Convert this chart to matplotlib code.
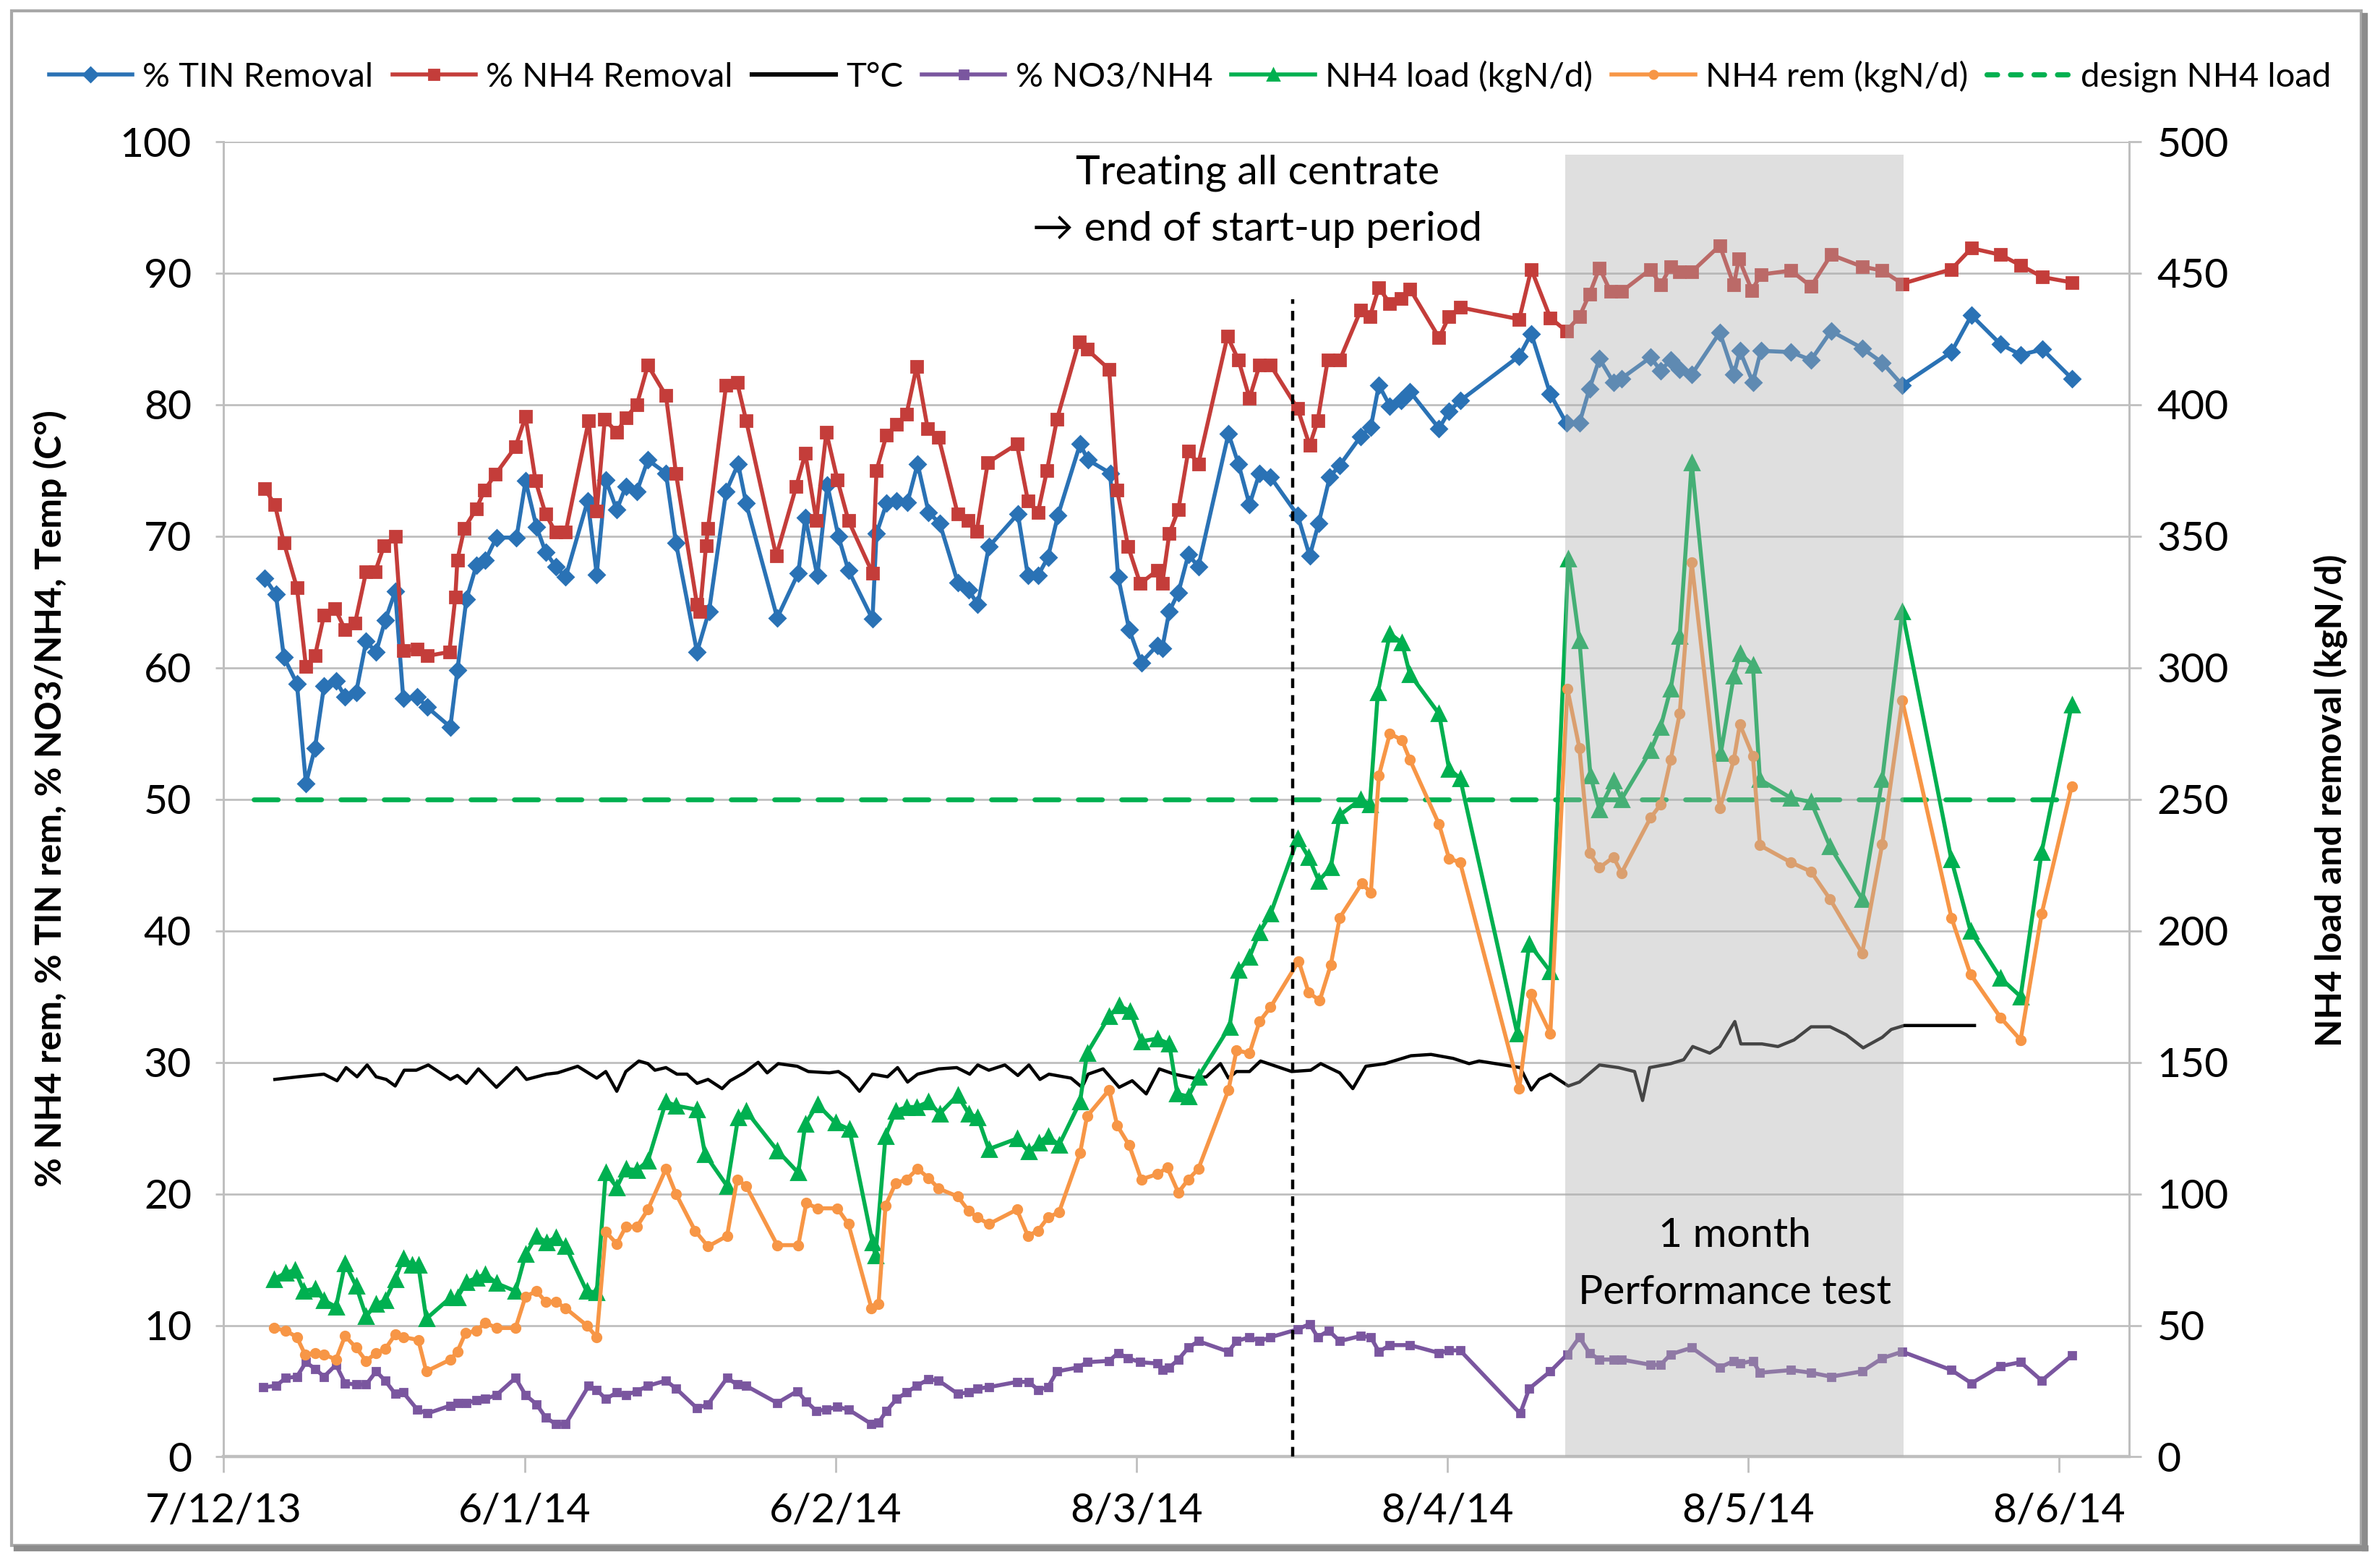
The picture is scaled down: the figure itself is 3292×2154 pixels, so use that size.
import matplotlib
matplotlib.use("Agg")
import matplotlib.pyplot as plt
from matplotlib.patches import Rectangle
from matplotlib.lines import Line2D

plt.rcParams['font.family'] = ['Lato', 'DejaVu Sans']

# ---------------- data (x = days since 7/12/13) ----------------
tick_days = [0, 30, 61, 91, 122, 152, 183]
tick_labels = ["7/12/13", "6/1/14", "6/2/14", "8/3/14", "8/4/14", "8/5/14", "8/6/14"]

nh4_days = [4.1, 5.1, 6.0, 7.3, 8.2, 9.1, 10.0, 11.1, 12.1, 13.1, 14.2, 15.1, 16.0, 17.1, 17.9,
            19.3, 20.3, 22.5, 23.1, 23.3, 24.0, 25.2, 26.0, 27.1, 29.1, 30.1, 31.1, 32.1, 33.1,
            34.1, 36.4, 37.2, 38.0, 39.2, 40.1, 41.2, 42.3, 44.1, 45.1, 47.2, 47.5, 48.1, 48.3,
            50.1, 51.2, 52.1, 55.1, 57.1, 58.0, 59.1, 60.1, 61.2, 62.3, 64.7, 65.1, 66.1, 67.1,
            68.1, 69.1, 70.2, 71.3, 73.2, 74.2, 75.1, 76.2, 79.1, 80.2, 81.2, 82.1, 83.1, 85.3,
            86.1, 88.3, 89.1, 90.2, 91.4, 93.1, 93.6, 94.3, 95.2, 96.2, 97.2, 100.1, 101.2,
            102.3, 103.3, 104.4, 107.1, 108.3, 109.1, 110.1, 111.3, 113.4, 114.3, 115.2, 116.3,
            117.4, 118.3, 121.2, 122.2, 123.3, 129.2, 130.4, 132.3, 133.9, 135.2, 136.2, 137.2,
            138.3, 139.4, 142.3, 143.3, 144.3, 145.2, 146.4, 149.2, 150.6, 151.1, 152.4, 153.3,
            156.3, 158.3, 160.3, 163.4, 165.4, 167.4, 172.3, 174.3, 177.2, 179.2, 181.4, 184.3]
nh4_removal = [73.6, 72.4, 69.5, 66.1, 60.1, 60.9, 64.0, 64.5, 62.9, 63.4, 67.3, 67.3, 69.3, 70.0,
               61.3, 61.4, 60.9, 61.2, 65.4, 68.2, 70.6, 72.1, 73.5, 74.7, 76.8, 79.1, 74.2, 71.7,
               70.3, 70.3, 78.8, 71.9, 78.9, 77.9, 79.0, 80.0, 83.0, 80.7, 74.8, 64.8, 64.3, 69.3,
               70.6, 81.5, 81.7, 78.8, 68.5, 73.8, 76.3, 71.2, 77.9, 74.3, 71.2, 67.2, 75.0, 77.7,
               78.5, 79.3, 82.9, 78.2, 77.5, 71.7, 71.2, 70.4, 75.6, 77.0, 72.7, 71.8, 75.0, 78.9,
               84.8, 84.2, 82.7, 73.5, 69.2, 66.4, 67.4, 66.4, 70.2, 72.0, 76.5, 75.5, 85.2, 83.4,
               80.5, 83.0, 83.0, 79.7, 76.9, 78.8, 83.4, 83.4, 87.2, 86.7, 88.9, 87.7, 88.1, 88.8,
               85.1, 86.7, 87.4, 86.5, 90.3, 86.6, 85.6, 86.7, 88.4, 90.4, 88.6, 88.6, 90.3, 89.1,
               90.5, 90.1, 90.1, 92.1, 89.1, 91.1, 88.7, 89.9, 90.2, 89.0, 91.4, 90.5, 90.2, 89.2,
               90.3, 91.9, 91.4, 90.6, 89.7, 89.3]

tin_days = [4.1, 5.2, 6.0, 7.3, 8.2, 9.1, 10.0, 11.2, 12.1, 13.2, 14.2, 15.2, 16.1, 17.1, 17.9,
            19.3, 20.3, 22.6, 23.3, 24.2, 25.2, 26.1, 27.2, 29.2, 30.1, 31.2, 32.1, 33.1, 34.1,
            36.3, 37.2, 38.1, 39.2, 40.1, 41.2, 42.3, 44.1, 45.1, 47.2, 48.4, 50.1, 51.3, 52.1,
            55.2, 57.3, 58.0, 59.2, 60.2, 61.3, 62.3, 64.7, 65.1, 66.1, 67.1, 68.2, 69.2, 70.3,
            71.4, 73.2, 74.3, 75.2, 76.3, 79.2, 80.2, 81.2, 82.2, 83.2, 85.4, 86.2, 88.4, 89.2,
            90.3, 91.5, 93.1, 93.6, 94.3, 95.2, 96.2, 97.2, 100.2, 101.2, 102.3, 103.3, 104.4,
            107.1, 108.3, 109.2, 110.3, 111.3, 113.4, 114.4, 115.2, 116.3, 117.4, 118.3, 121.2,
            122.2, 123.3, 129.2, 130.4, 132.3, 133.9, 135.2, 136.2, 137.2, 138.6, 139.4, 142.3,
            143.3, 144.3, 145.2, 146.4, 149.2, 150.6, 151.2, 152.5, 153.3, 156.3, 158.3, 160.3,
            163.4, 165.4, 167.4, 172.3, 174.3, 177.2, 179.2, 181.4, 184.3]
tin_removal = [66.8, 65.6, 60.8, 58.8, 51.2, 53.9, 58.6, 59.0, 57.8, 58.1, 62.0, 61.2, 63.6, 65.8,
               57.7, 57.8, 57.0, 55.5, 59.8, 65.2, 67.8, 68.2, 69.9, 69.9, 74.2, 70.7, 68.8, 67.7,
               66.9, 72.7, 67.1, 74.3, 72.0, 73.8, 73.4, 75.8, 74.8, 69.5, 61.2, 64.3, 73.4, 75.5,
               72.5, 63.8, 67.2, 71.4, 67.0, 73.9, 70.0, 67.4, 63.7, 70.2, 72.5, 72.7, 72.6, 75.5,
               71.8, 71.0, 66.5, 65.9, 64.8, 69.2, 71.7, 67.0, 67.0, 68.4, 71.6, 77.0, 75.8, 74.8,
               66.9, 62.9, 60.4, 61.7, 61.5, 64.3, 65.7, 68.6, 67.7, 77.8, 75.5, 72.4, 74.8, 74.5,
               71.6, 68.5, 71.0, 74.5, 75.4, 77.6, 78.3, 81.5, 79.9, 80.3, 81.0, 78.2, 79.5, 80.3,
               83.7, 85.4, 80.8, 78.6, 78.6, 81.2, 83.5, 81.7, 82.0, 83.6, 82.6, 83.4, 82.7, 82.3,
               85.5, 82.3, 84.1, 81.7, 84.1, 84.0, 83.4, 85.6, 84.3, 83.2, 81.5, 84.0, 86.8, 84.6,
               83.8, 84.2, 82.0]

temp_days = [5.1, 7.4, 10.0, 11.3, 12.2, 13.3, 14.3, 15.2, 16.2, 17.1, 18.0, 19.2, 20.4, 22.6,
             23.3, 24.2, 25.4, 27.2, 29.2, 30.2, 32.2, 33.3, 35.3, 37.2, 38.1, 39.2, 40.1, 41.4,
             42.3, 43.0, 44.1, 45.2, 46.2, 47.2, 48.3, 49.7, 50.5, 51.9, 53.3, 54.2, 55.3, 57.2,
             58.3, 60.4, 61.3, 62.3, 63.4, 64.7, 66.2, 67.2, 68.2, 69.2, 71.3, 73.1, 74.4, 75.2,
             76.3, 77.9, 79.2, 80.3, 81.4, 82.3, 84.5, 85.6, 86.2, 87.7, 89.3, 90.6, 92.0, 93.3,
             94.8, 96.7, 98.0, 99.4, 100.2, 101.0, 102.3, 103.4, 106.5, 108.4, 109.4, 111.3,
             112.6, 113.9, 115.8, 118.4, 120.4, 122.6, 124.2, 125.2, 129.3, 130.4, 131.2, 132.3,
             134.1, 135.2, 137.2, 139.1, 140.7, 141.5, 142.2, 144.3, 145.6, 146.5, 148.2, 149.2,
             150.7, 151.3, 153.4, 155.0, 156.6, 158.3, 160.2, 161.8, 163.5, 165.4, 166.3, 167.6,
             174.6]
temp_c = [28.7, 28.9, 29.1, 28.6, 29.6, 28.9, 29.8, 28.9, 28.7, 28.2, 29.4, 29.4, 29.8, 28.7,
          29.0, 28.4, 29.5, 28.1, 29.6, 28.7, 29.1, 29.2, 29.7, 28.8, 29.3, 27.8, 29.3, 30.1,
          29.9, 29.4, 29.6, 29.1, 29.1, 28.4, 28.7, 28.0, 28.6, 29.2, 30.0, 29.2, 29.9, 29.7,
          29.3, 29.2, 29.3, 28.8, 27.8, 29.1, 28.9, 29.6, 28.5, 29.1, 29.5, 29.6, 29.1, 29.8,
          29.4, 29.8, 29.0, 29.8, 28.7, 29.1, 28.8, 28.1, 29.1, 29.5, 28.1, 28.6, 27.6, 29.5,
          29.1, 28.8, 28.9, 29.9, 28.8, 29.3, 29.3, 30.1, 29.3, 29.4, 29.9, 29.2, 28.0, 29.7,
          29.9, 30.5, 30.6, 30.3, 29.9, 30.1, 29.6, 27.9, 28.7, 29.1, 28.2, 28.5, 29.8, 29.6,
          29.3, 27.1, 29.6, 29.9, 30.2, 31.2, 30.7, 31.2, 33.1, 31.4, 31.4, 31.2, 31.7, 32.7,
          32.7, 32.1, 31.1, 31.9, 32.5, 32.8, 32.8]

no3_days = [3.9, 5.2, 6.2, 7.3, 8.2, 9.1, 10.0, 11.2, 12.1, 13.2, 14.2, 15.2, 16.1, 17.1, 17.9,
            19.3, 20.3, 22.6, 23.3, 24.2, 25.2, 26.1, 27.2, 29.1, 30.1, 31.2, 32.1, 33.1, 34.1,
            36.4, 37.2, 38.1, 39.2, 40.1, 41.2, 42.3, 44.1, 45.1, 47.2, 48.3, 50.2, 51.2, 52.1,
            55.2, 57.2, 58.1, 59.1, 60.1, 61.2, 62.3, 64.6, 65.3, 66.1, 67.1, 68.1, 69.1, 70.3,
            71.3, 73.2, 74.3, 75.2, 76.3, 79.1, 80.3, 81.2, 82.2, 83.1, 85.2, 86.1, 88.3, 89.2,
            90.2, 91.4, 93.1, 93.6, 94.3, 95.2, 96.2, 97.2, 100.2, 101.0, 102.3, 103.3, 104.4,
            107.1, 108.3, 109.1, 110.2, 111.3, 113.4, 114.4, 115.2, 116.3, 118.3, 121.2, 122.2,
            123.3, 129.3, 130.2, 132.3, 134.0, 135.2, 136.2, 137.2, 138.6, 139.4, 142.3, 143.3,
            144.3, 146.4, 149.2, 150.6, 151.2, 152.5, 153.2, 156.3, 158.3, 160.3, 163.4, 165.4,
            167.4, 172.3, 174.3, 177.2, 179.2, 181.3, 184.3]
no3_nh4 = [5.3, 5.4, 6.0, 6.1, 7.2, 6.7, 6.1, 7.0, 5.6, 5.5, 5.5, 6.5, 5.8, 4.8, 4.9, 3.6, 3.3,
           3.9, 4.1, 4.1, 4.3, 4.4, 4.7, 6.0, 4.7, 4.0, 3.0, 2.5, 2.5, 5.4, 5.1, 4.4, 4.9, 4.7,
           5.0, 5.4, 5.8, 5.2, 3.7, 4.0, 6.0, 5.5, 5.4, 4.1, 5.0, 4.2, 3.5, 3.6, 3.8, 3.6, 2.5,
           2.6, 3.5, 4.4, 4.9, 5.4, 5.9, 5.8, 4.8, 4.9, 5.2, 5.3, 5.7, 5.7, 5.1, 5.3, 6.5, 6.8,
           7.2, 7.3, 7.9, 7.5, 7.2, 7.1, 6.6, 6.8, 7.4, 8.3, 8.8, 8.0, 8.8, 9.1, 8.8, 9.1, 9.7,
           10.1, 9.1, 9.6, 8.8, 9.2, 9.1, 8.0, 8.5, 8.5, 7.9, 8.1, 8.1, 3.3, 5.2, 6.5, 7.8, 9.1,
           7.9, 7.4, 7.4, 7.4, 7.0, 7.0, 7.8, 8.3, 6.8, 7.3, 7.1, 7.3, 6.4, 6.6, 6.4, 6.1, 6.5,
           7.5, 8.0, 6.6, 5.6, 6.9, 7.2, 5.8, 7.7]

load_days = [5.0, 6.2, 7.1, 8.0, 9.1, 10.0, 11.2, 12.1, 13.2, 14.2, 15.2, 16.1, 17.1, 17.9, 18.8,
             19.4, 20.2, 22.6, 23.3, 24.2, 25.2, 26.1, 27.2, 29.1, 30.1, 31.2, 32.2, 33.1, 34.1,
             36.2, 37.2, 38.1, 39.2, 40.1, 41.2, 42.3, 44.1, 45.1, 47.2, 48.0, 50.2, 51.3, 52.1,
             55.2, 57.3, 58.0, 59.2, 61.0, 62.4, 64.7, 65.0, 66.0, 67.0, 68.1, 69.1, 70.3, 71.4,
             73.2, 74.3, 75.2, 76.3, 79.1, 80.3, 81.3, 82.2, 83.3, 85.4, 86.1, 88.3, 89.3, 90.4,
             91.5, 93.1, 94.3, 95.1, 96.2, 97.2, 100.3, 101.2, 102.3, 103.3, 104.4, 107.1, 108.2,
             109.2, 110.4, 111.3, 113.4, 114.3, 115.1, 116.3, 117.5, 118.3, 121.2, 122.2, 123.3,
             129.0, 130.2, 132.3, 134.1, 135.2, 136.3, 137.2, 138.6, 139.4, 142.3, 143.3, 144.3,
             145.2, 146.4, 149.3, 150.6, 151.2, 152.5, 153.2, 156.3, 158.3, 160.2, 163.4, 165.4,
             167.4, 172.3, 174.2, 177.2, 179.2, 181.3, 184.3]
nh4_load = [67.5, 70, 71, 63, 64, 59.5, 57, 73.5, 65, 53.5, 58, 59.5, 67.5, 75.5, 73, 73, 52.5,
            60.5, 60.5, 66.5, 68, 69.5, 66, 63, 77, 84, 81.5, 83.5, 80, 63, 62.5, 108, 102.5,
            109.5, 109, 112.5, 135, 133.5, 132, 115, 103, 129, 131.5, 116.5, 108, 126.5, 134,
            127, 124.5, 81.5, 76.5, 122, 131.5, 133, 133, 135, 130.5, 137.5, 130.5, 129, 117,
            121, 116, 119.5, 122, 118.5, 135, 153.5, 167.5, 171.5, 169.5, 158, 159, 157, 138,
            137, 144.5, 163.5, 185, 190, 199.5, 206.5, 235, 228, 219, 224, 244, 250, 248, 290.5,
            313, 309.5, 297.5, 282.5, 261.5, 258, 161, 195, 184.5, 341.5, 310.5, 259, 246, 257,
            250, 268.5, 277.5, 292, 312, 378, 267.5, 297, 305.5, 301, 257.5, 250.5, 249, 232,
            212, 257.5, 321.5, 227, 200, 182, 175, 230, 286]

rem_days = [5.0, 6.2, 7.3, 8.1, 9.1, 10.0, 11.2, 12.1, 13.2, 14.2, 15.2, 16.1, 17.1, 17.9, 19.4,
            20.2, 22.6, 23.3, 24.1, 25.2, 26.1, 27.2, 29.1, 30.1, 31.2, 32.1, 33.1, 34.1, 36.2,
            37.2, 38.1, 39.2, 40.1, 41.2, 42.3, 44.1, 45.1, 47.0, 48.3, 50.2, 51.2, 52.1, 55.2,
            57.3, 58.1, 59.2, 61.2, 62.3, 64.6, 65.3, 66.0, 67.0, 68.1, 69.2, 70.3, 71.3, 73.2,
            74.3, 75.2, 76.3, 79.1, 80.2, 81.2, 82.2, 83.3, 85.4, 86.1, 88.3, 89.1, 90.3, 91.5,
            93.1, 94.1, 95.2, 96.2, 97.2, 100.2, 101.0, 102.3, 103.3, 104.4, 107.2, 108.2, 109.3,
            110.4, 111.3, 113.5, 114.4, 115.2, 116.3, 117.5, 118.3, 121.2, 122.2, 123.3, 129.2,
            130.4, 132.3, 134.0, 135.2, 136.2, 137.2, 138.6, 139.4, 142.3, 143.3, 144.3, 145.2,
            146.4, 149.2, 150.6, 151.2, 152.5, 153.2, 156.3, 158.3, 160.2, 163.4, 165.4, 167.4,
            172.3, 174.2, 177.2, 179.2, 181.3, 184.3]
nh4_rem = [49, 48, 45.5, 39, 39.5, 39, 37, 46, 41.5, 36.5, 39.5, 41, 46.5, 45.5, 44.5, 32.5, 37,
           40, 47, 48, 51, 49, 49, 61, 63, 59, 59, 56.5, 50, 45.5, 85.5, 81, 87.5, 87.5, 94,
           109.5, 100, 86, 80, 84, 105.5, 103, 80.5, 80.5, 96.5, 94.5, 94.5, 88.5, 56.5, 58,
           95.5, 104, 105.5, 109.5, 106, 102, 99, 93.5, 91, 88.5, 94, 84, 86, 91, 93, 115.5,
           129.5, 139.5, 126, 118.5, 105.5, 107.5, 110, 100.5, 105.5, 109.5, 139.5, 154.5, 153.5,
           165.5, 171, 188.5, 176.5, 173.5, 187, 205, 218, 214.5, 259, 275, 272.5, 265, 240.5,
           227.5, 226, 140, 176, 161, 292, 269.5, 229.5, 224, 228, 222, 243, 248, 265, 282.5, 340,
           246.5, 265, 278.5, 266.5, 232.5, 226, 222.5, 212, 191.5, 233, 287.5, 205, 183.5, 167,
           158.5, 206.5, 255]

design_days = [3.0, 184.3]
design_load = [250, 250]

startup_end_day = 106.6
perf_test_days = [133.8, 167.5]

# ---------------- figure ----------------
W, H, DPI = 3292, 2154, 200
fig = plt.figure(figsize=(W / DPI, H / DPI), dpi=DPI)
fig.patch.set_facecolor('white')

ax = fig.add_axes([0.094, 0.0643, 0.8005, 0.8447])
ax2 = ax.twinx()

grid_c = '#BFBFBF'
ax.set_xlim(0, 190)
ax.set_ylim(0, 100)
ax2.set_ylim(0, 500)
ax.set_yticks(range(0, 101, 10))
ax2.set_yticks(range(0, 501, 50))
ax.set_xticks(tick_days)
ax.set_xticklabels(tick_labels)
ax.yaxis.grid(True, color=grid_c, lw=1.0)
ax.set_axisbelow(True)

for a in (ax, ax2):
    for s in a.spines.values():
        s.set_color(grid_c)
        s.set_linewidth(1.0)
    a.spines['top'].set_visible(False)
ax.spines['bottom'].set_linewidth(1.6)

ax.tick_params(axis='x', direction='out', length=8, width=1.0, color=grid_c,
               labelsize=20.5, pad=10)
ax.tick_params(axis='y', direction='out', length=4, width=1.0, color=grid_c,
               labelsize=20.5, pad=12)
ax2.tick_params(axis='y', direction='out', length=6, width=1.0, color=grid_c,
                labelsize=20.5, pad=8)

c_blue = '#2A72B5'
c_red = '#C43D3A'
c_purple = '#7A569F'
c_green = '#00B050'
c_orange = '#F79646'

lw = 2.0
ax.plot(tin_days, tin_removal, color=c_blue, lw=lw, marker='D', ms=5.5, zorder=3)
ax.plot(nh4_days, nh4_removal, color=c_red, lw=lw, marker='s', ms=5.5, zorder=3)
ax.plot(temp_days, temp_c, color='black', lw=1.6, zorder=3)
ax.plot(no3_days, no3_nh4, color=c_purple, lw=lw, marker='s', ms=3.5, zorder=3)

ax2.plot(design_days, design_load, color=c_green, lw=2.4, ls=(0, (5, 4)),
         dash_capstyle='round', zorder=2)
ax2.plot(load_days, nh4_load, color=c_green, lw=lw, marker='^', ms=7, zorder=3)
ax2.plot(rem_days, nh4_rem, color=c_orange, lw=lw, marker='o', ms=4.5, zorder=3)

# start-up end marker
ax2.plot([startup_end_day, startup_end_day], [0, 440], color='black', lw=1.6,
         ls=(0, (3, 2.2)), zorder=4)

# performance test shading (overlay)
ax2.axvspan(perf_test_days[0], perf_test_days[1], ymin=0, ymax=0.99,
            facecolor='#AFAFAF', alpha=0.4, edgecolor='none', zorder=5)

# annotations
ax.text(103.1, 97.6, "Treating all centrate", ha='center', va='center', fontsize=20.5,
        zorder=6)
ax.text(103.1, 93.3, "\u2192 end of start-up period", ha='center', va='center', fontsize=20.5,
        family=['Lato', 'DejaVu Sans'], zorder=6)
ax2.text(150.7, 84, "1 month", ha='center', va='center', fontsize=20.5, zorder=6)
ax2.text(150.7, 62.5, "Performance test", ha='center', va='center', fontsize=20.5, zorder=6)

# axis labels
fig.text(0.021, 0.487, "% NH4 rem, % TIN rem, % NO3/NH4, Temp (C\u00b0)", rotation=90,
         ha='center', va='center', fontsize=18, fontweight='bold')
fig.text(0.979, 0.486, "NH4 load and removal (kgN/d)", rotation=90,
         ha='center', va='center', fontsize=18, fontweight='bold')

# legend
handles = [
    Line2D([], [], color=c_blue, lw=lw, marker='D', ms=5),
    Line2D([], [], color=c_red, lw=lw, marker='s', ms=5),
    Line2D([], [], color='black', lw=2.2),
    Line2D([], [], color=c_purple, lw=lw, marker='s', ms=4),
    Line2D([], [], color=c_green, lw=lw, marker='^', ms=6),
    Line2D([], [], color=c_orange, lw=lw, marker='o', ms=4),
    Line2D([], [], color=c_green, lw=2.6, ls=(0, (2, 2.5)), dash_capstyle='round'),
]
labels = ["% TIN Removal", "% NH4 Removal", "T\u00b0C", "% NO3/NH4",
          "NH4 load (kgN/d)", "NH4 rem (kgN/d)", "design NH4 load"]
fig.legend(handles, labels, loc='center', bbox_to_anchor=(0.5, 0.951), ncol=7,
           frameon=False, fontsize=17, handlelength=2.45, handletextpad=0.3,
           columnspacing=0.55)

# figure frame with shadow
fig.patches.append(Rectangle((0.005, 0.0075), 0.987, 0.9855, transform=fig.transFigure,
                             fill=False, edgecolor='#A8A8A8', lw=1.5, zorder=0))
fig.add_artist(Line2D([0.007, 0.994], [0.0058, 0.0058], transform=fig.transFigure,
                      color='#8C8C8C', lw=3.0))
fig.add_artist(Line2D([0.9935, 0.9935], [0.0058, 0.99], transform=fig.transFigure,
                      color='#8C8C8C', lw=3.0))

fig.savefig('out.png', dpi=DPI)
